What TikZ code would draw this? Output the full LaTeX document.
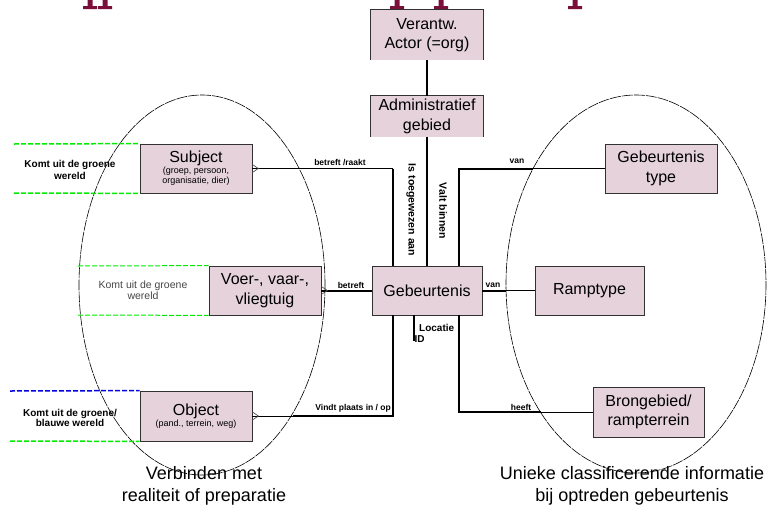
\documentclass[tikz,border=0pt]{standalone}
\usepackage{fontspec}
\setmainfont{Liberation Sans}
\usetikzlibrary{calc}
\definecolor{boxfill}{RGB}{229,210,218}
\definecolor{boxline}{RGB}{50,50,50}
\definecolor{titlered}{RGB}{122,16,58}
\definecolor{worldgreen}{RGB}{0,235,0}
\definecolor{worldblue}{RGB}{0,0,225}
\definecolor{softgray}{RGB}{70,70,70}

\begin{document}
\begin{tikzpicture}[x=1pt,y=-1pt,
  entity/.style={fill=boxfill, draw=boxline, line width=0.8pt, inner sep=0pt,
    text width=#1, align=flush center, minimum height=49pt,
    font=\fontsize{16}{19.5}\selectfont},
  entity/.default=112pt,
  openentity/.style={entity=#1, draw=none},
  openentity/.default=112pt,
  rel/.style={line width=2pt, draw=black},
  relthin/.style={line width=0.9pt, draw=black},
  crow/.style={line width=0.6pt, draw=softgray},
  lbl/.style={inner sep=0pt, font=\bfseries\fontsize{8.5}{10}\selectfont},
  vlbl/.style={inner sep=0pt, rotate=-90, font=\bfseries\fontsize{10.5}{12}\selectfont},
  world/.style={inner sep=0pt, align=flush center, text width=130pt, font=\bfseries\fontsize{10}{12}\selectfont},
  worldgreenline/.style={draw=worldgreen, line width=1.5pt, dash pattern=on 5pt off 2pt},
  worldblueline/.style={draw=worldblue, line width=1.5pt, dash pattern=on 5pt off 2pt},
  cluster/.style={draw=black, line width=0.6pt, dash pattern=on 11pt off 1pt},
  caption/.style={inner sep=0pt, align=flush center, text width=320pt, font=\fontsize{18}{22}\selectfont},
  glyphcut/.style={fill=titlered, draw=none}
]
\useasboundingbox (0,0) rectangle (770,514);

% descenders of the heading above the drawing
\foreach \gx in {90,105,397,441,575}{
  \fill[glyphcut] (\gx-2.5,0) -- (\gx+2.5,0) -- (\gx+2.5,6) -- (\gx+7,6)
    -- (\gx+7,9) -- (\gx-7,9) -- (\gx-7,6) -- (\gx-2.5,6) -- cycle;
}

% the two groupings
\draw[cluster] (202,285) ellipse [x radius=123, y radius=190];
\draw[cluster] (636,284) ellipse [x radius=130, y radius=189];

% entities
\node[openentity] (act) at (427,35) [minimum height=50pt] {Verantw.\\Actor (=org)};
\node[openentity] (adm) at (427,116.5) [minimum height=41pt] {Administratief\\gebied};
\draw[boxline, line width=0.8pt] (act.south west) -- (act.north west) -- (act.north east) -- (act.south east);
\draw[boxline, line width=0.8pt] (adm.south west) -- (adm.north west) -- (adm.north east) -- (adm.south east);

\node[entity] (sub) at (196,168.5) {Subject\\\fontsize{9}{10.5}\selectfont(groep, persoon,\\organisatie, dier)\par};
\node[entity] (voer) at (265,290.5) {Voer-, vaar-,\\vliegtuig};
\node[entity, minimum height=50pt] (obj) at (196,416) {Object\\\fontsize{9}{10.5}\selectfont(pand., terrein, weg)\par};
\node[entity=110pt] (geb) at (427,290.5) {Gebeurtenis};
\node[entity=109pt] (ramp) at (589.5,290.5) {Ramptype};
\node[entity] (gtype) at (661,168.5) {Gebeurtenis\\type};
\node[entity=111pt, minimum height=50pt] (bron) at (648.5,412) {Brongebied/\\rampterrein};

% where the connectors bend or change weight
\coordinate (gl) at ([xshift=21pt]geb.north west);
\coordinate (gr) at ([xshift=-23pt]geb.north east);
\coordinate (gbl) at ([xshift=21pt]geb.south west);
\coordinate (gbr) at ([xshift=-23pt]geb.south east);
\coordinate (subbend) at (gl |- sub.east);
\coordinate (objbend) at (gbl |- obj.east);
\coordinate (objedge) at (293,416);
\coordinate (typebend) at (gr |- gtype.west);
\coordinate (typeedge) at (533,168.5);
\coordinate (bronbend) at (gbr |- bron.west);
\coordinate (bronedge) at (541,412);
\coordinate (rampedge) at (506,290.5);
\coordinate (locstub) at ([xshift=42pt]geb.south west);
\coordinate (locend) at (locstub |- 0,341);

% connectors
\draw[rel] (act.south) -- (adm.north);
\draw[rel] (adm.south) -- (geb.north);
\draw[relthin] (sub.east) -- (subbend);
\draw[rel] (subbend) -- (gl);
\draw[rel] (voer.east) -- (geb.west);
\draw[relthin] (obj.east) -- (objedge);
\draw[rel] (objedge) -- (objbend) -- (gbl);
\draw[rel] (geb.east) -- (rampedge);
\draw[relthin] (rampedge) -- (ramp.west);
\draw[rel] (gr) -- (typebend) -- (typeedge);
\draw[relthin] (typeedge) -- (gtype.west);
\draw[rel] (gbr) -- (bronbend) -- (bronedge);
\draw[relthin] (bronedge) -- (bron.west);
\draw[rel] (locstub) -- (locend);

% many-side marks
\foreach \e in {sub,voer,obj}{
  \draw[crow] (\e.east) +(0,-4) -- +(6,0) -- +(0,4);
}

% relation labels
\node[lbl] (lraakt) at (340,162.5) {betreft /raakt};
\node[lbl] (lbetreft) at (351,285) {betreft};
\node[lbl] (lvan1) at (493,285.5) {van};
\node[lbl] (lvan2) at (517,161.5) {van};
\node[lbl] (lheeft) at (521,407) {heeft};
\node[lbl, anchor=east] (lplaats) at (391,408.5) {Vindt plaats in / op};
\node[vlbl] (ltoe) at (411,210) {Is toegewezen aan};
\node[vlbl] (lvalt) at (443,211) {Valt binnen};
\node[lbl, anchor=west, font=\bfseries\fontsize{10}{11}\selectfont] (lloc) at (419,328) {Locatie};
\node[lbl, anchor=west, font=\bfseries\fontsize{10}{11}\selectfont] (lid) at (414.5,339.5) {ID};

% origin of the data
\coordinate (ws1) at (14,144);
\coordinate (ws2) at (14,193);
\draw[worldgreenline] (ws1) -- (sub.north west);
\draw[worldgreenline] (ws2) -- (sub.south west);
\node[world] (wsub) at (70,170) {Komt uit de groene\\wereld\par};

\coordinate (wv1) at (78,266);
\coordinate (wv2) at (78,315);
\draw[worldgreenline, line width=1pt] (wv1) -- (voer.north west);
\draw[worldgreenline, line width=1pt] (wv2) -- (voer.south west);
\node[world, font=\fontsize{10.5}{11.5}\selectfont, text=softgray] (wvoer) at (143,290) {Komt uit de groene\\wereld\par};

\coordinate (wo1) at (10,391);
\coordinate (wo2) at (10,441);
\draw[worldblueline] (wo1) -- (obj.north west);
\draw[worldgreenline] (wo2) -- (obj.south west);
\node[world, font=\bfseries\fontsize{10}{10.5}\selectfont] (wobj) at (70,418) {Komt uit de groene/\\blauwe wereld\par};

% captions of the groupings
\node[caption] (capl) at (204,486) {Verbinden met\\realiteit of preparatie\par};
\node[caption] (capr) at (632,486) {Unieke classificerende informatie\\bij optreden gebeurtenis\par};
\end{tikzpicture}
\end{document}
